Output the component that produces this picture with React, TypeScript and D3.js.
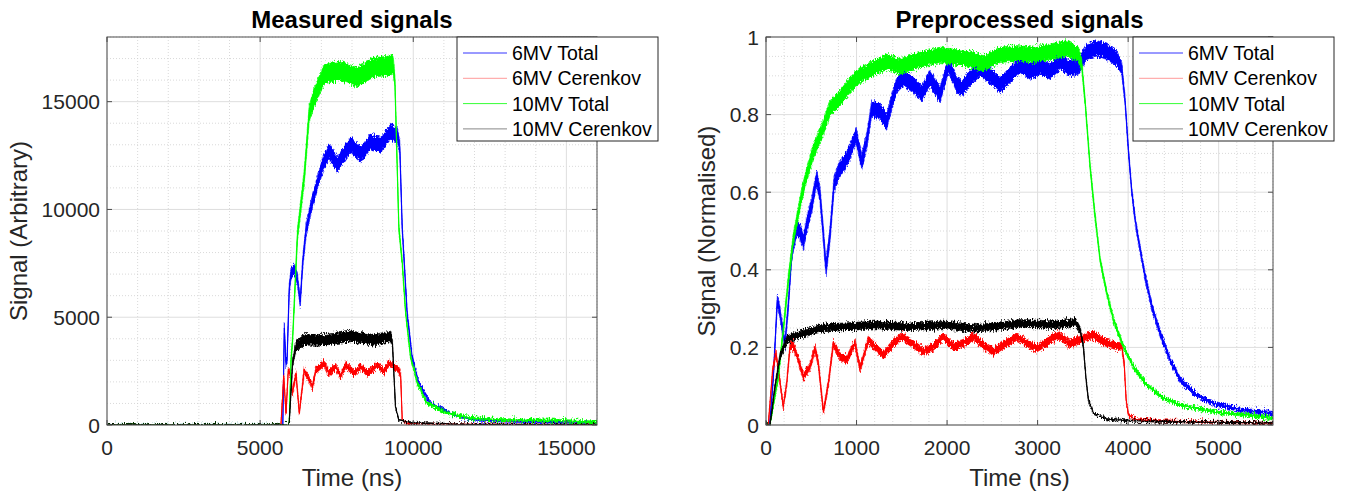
import React from 'react';
import * as d3 from 'd3';

type P = [number, number, number]; // [time, value, noise half-width]

const seriesNames = ['6MV Total', '6MV Cerenkov', '10MV Total', '10MV Cerenkov'];
const seriesColors = ['#0000ff', '#ff0000', '#00ff00', '#000000'];

const leftXTicks = [0, 5000, 10000, 15000];
const leftYTicks = [0, 5000, 10000, 15000];
const rightXTicks = [0, 1000, 2000, 3000, 4000, 5000];
const rightYTicks = [0, 0.2, 0.4, 0.6, 0.8, 1];

// ---- Measured signals ----
const left6MVTotal: P[] = [
  [0, 0, 30], [5600, 0, 30], [5740, 0, 50], [5790, 4500, 200], [5840, 2900, 200], [5880, 3000, 200],
  [5950, 6300, 250], [6010, 7050, 250], [6120, 7200, 250], [6220, 6750, 250], [6310, 5700, 250],
  [6390, 7500, 250], [6500, 9050, 300], [6660, 10100, 300], [6880, 11300, 300], [7090, 12250, 350],
  [7250, 12700, 350], [7520, 12100, 350], [7960, 13000, 350], [8290, 12550, 350], [8610, 13150, 350],
  [8940, 13000, 350], [9260, 13600, 350], [9480, 13450, 350], [9560, 12900, 300], [9640, 9150, 200],
  [9800, 5200, 150], [9960, 3180, 120], [10180, 1940, 100], [10560, 1010, 80], [11320, 470, 70],
  [11970, 240, 60], [13000, 180, 50], [14500, 140, 50], [16000, 100, 40],
];
const left6MVCerenkov: P[] = [
  [0, 0, 20], [5680, 0, 20], [5770, 2250, 120], [5845, 550, 100], [5920, 2550, 120], [6000, 2300, 120],
  [6060, 1470, 120], [6170, 2400, 120], [6280, 550, 100], [6440, 2550, 150], [6550, 2250, 150],
  [6710, 1780, 150], [6820, 2550, 150], [7090, 2870, 150], [7250, 2400, 150], [7470, 2710, 150],
  [7630, 2250, 150], [7800, 2790, 150], [8070, 2400, 150], [8290, 2710, 150], [8500, 2400, 150],
  [8830, 2790, 150], [9040, 2480, 150], [9210, 2870, 150], [9530, 2560, 150], [9590, 2250, 150],
  [9640, 230, 50], [9800, 80, 30], [11000, 40, 20], [16000, 10, 20],
];
const left10MVTotal: P[] = [
  [0, 0, 30], [5900, 0, 30], [5950, 100, 50], [6010, 3020, 150], [6060, 3950, 200], [6220, 8840, 300],
  [6440, 11490, 350], [6600, 14420, 400], [6770, 15210, 450], [7090, 16280, 450], [7630, 16430, 450],
  [8170, 16140, 450], [8720, 16600, 450], [9260, 16670, 450], [9340, 16750, 450], [9400, 15970, 300],
  [9530, 9160, 200], [9640, 7540, 150], [9750, 5210, 120], [9910, 3180, 100], [10130, 1950, 100],
  [10450, 1020, 80], [11100, 560, 70], [11860, 320, 70], [13000, 230, 60], [14500, 220, 60], [16000, 130, 50],
];
const left10MVCerenkov: P[] = [
  [0, 0, 20], [5900, 0, 20], [5950, 100, 40], [6060, 2870, 200], [6170, 3640, 250], [6440, 3950, 250],
  [7090, 3950, 250], [7960, 4110, 250], [8720, 3950, 250], [9260, 4110, 250], [9320, 3800, 200],
  [9420, 850, 80], [9530, 230, 40], [10000, 100, 30], [12000, 20, 20], [16000, 10, 15],
];

// ---- Preprocessed signals ----
const right6MVTotal: P[] = [
  [0, 0, 0.004], [40, 0, 0.004], [80, 0.12, 0.01], [125, 0.32, 0.015], [147, 0.3, 0.015], [184, 0.245, 0.015],
  [210, 0.21, 0.015], [247, 0.31, 0.015], [284, 0.44, 0.015], [339, 0.507, 0.02], [376, 0.498, 0.02],
  [413, 0.472, 0.02], [449, 0.515, 0.02], [505, 0.567, 0.02], [560, 0.636, 0.02], [597, 0.593, 0.02],
  [634, 0.49, 0.02], [663, 0.404, 0.02], [707, 0.49, 0.02], [751, 0.619, 0.02], [799, 0.653, 0.02],
  [873, 0.679, 0.02], [928, 0.704, 0.02], [994, 0.747, 0.02], [1057, 0.679, 0.02], [1112, 0.73, 0.02],
  [1168, 0.816, 0.02], [1260, 0.808, 0.02], [1333, 0.782, 0.02], [1389, 0.833, 0.02], [1444, 0.876, 0.02],
  [1517, 0.894, 0.02], [1628, 0.876, 0.02], [1720, 0.855, 0.02], [1812, 0.894, 0.02], [1923, 0.851, 0.02],
  [2015, 0.928, 0.02], [2107, 0.878, 0.02], [2162, 0.868, 0.02], [2254, 0.894, 0.02], [2365, 0.919, 0.02],
  [2512, 0.894, 0.02], [2586, 0.876, 0.02], [2696, 0.902, 0.02], [2807, 0.928, 0.02], [2917, 0.911, 0.02],
  [3028, 0.924, 0.02], [3138, 0.911, 0.02], [3249, 0.936, 0.02], [3359, 0.919, 0.02], [3451, 0.924, 0.02],
  [3543, 0.962, 0.02], [3654, 0.971, 0.02], [3765, 0.962, 0.02], [3875, 0.945, 0.02], [3930, 0.919, 0.015],
  [3967, 0.833, 0.01], [4004, 0.704, 0.01], [4041, 0.6, 0.01], [4077, 0.53, 0.01], [4114, 0.477, 0.01],
  [4188, 0.382, 0.01], [4262, 0.305, 0.01], [4354, 0.236, 0.01], [4464, 0.168, 0.008], [4575, 0.116, 0.008],
  [4759, 0.077, 0.006], [4943, 0.056, 0.006], [5238, 0.039, 0.005], [5600, 0.03, 0.005],
];
const right6MVCerenkov: P[] = [
  [0, 0, 0.003], [25, 0, 0.003], [74, 0.142, 0.008], [110, 0.185, 0.008], [147, 0.125, 0.008], [191, 0.047, 0.008],
  [229, 0.107, 0.008], [265, 0.202, 0.01], [302, 0.206, 0.01], [357, 0.168, 0.01], [412, 0.125, 0.01],
  [486, 0.15, 0.01], [541, 0.198, 0.01], [578, 0.159, 0.01], [634, 0.034, 0.008], [689, 0.107, 0.01],
  [744, 0.211, 0.01], [818, 0.176, 0.01], [891, 0.168, 0.01], [983, 0.211, 0.01], [1039, 0.146, 0.01],
  [1131, 0.219, 0.01], [1204, 0.202, 0.01], [1296, 0.18, 0.01], [1389, 0.206, 0.01], [1499, 0.229, 0.01],
  [1610, 0.211, 0.01], [1738, 0.189, 0.01], [1849, 0.202, 0.01], [1959, 0.228, 0.01], [2070, 0.202, 0.01],
  [2180, 0.211, 0.01], [2291, 0.228, 0.01], [2401, 0.206, 0.01], [2512, 0.189, 0.01], [2622, 0.206, 0.01],
  [2770, 0.228, 0.01], [2881, 0.211, 0.01], [2991, 0.198, 0.01], [3138, 0.219, 0.01], [3230, 0.232, 0.01],
  [3350, 0.21, 0.01], [3470, 0.219, 0.01], [3543, 0.228, 0.01], [3617, 0.232, 0.01], [3727, 0.215, 0.01],
  [3838, 0.206, 0.01], [3930, 0.202, 0.01], [3956, 0.159, 0.006], [3978, 0.064, 0.004], [4004, 0.026, 0.004],
  [4096, 0.013, 0.003], [4575, 0.009, 0.003], [5600, 0.004, 0.003],
];
const right10MVTotal: P[] = [
  [0, 0, 0.003], [44, 0, 0.003], [136, 0.125, 0.01], [191, 0.245, 0.012], [247, 0.374, 0.015], [302, 0.48, 0.015],
  [339, 0.524, 0.015], [394, 0.593, 0.018], [449, 0.644, 0.018], [523, 0.704, 0.02], [615, 0.756, 0.02],
  [707, 0.816, 0.02], [818, 0.842, 0.02], [928, 0.876, 0.02], [1039, 0.902, 0.02], [1186, 0.919, 0.02],
  [1333, 0.936, 0.02], [1481, 0.924, 0.02], [1628, 0.936, 0.02], [1775, 0.945, 0.02], [1923, 0.954, 0.02],
  [2070, 0.949, 0.02], [2217, 0.945, 0.02], [2401, 0.932, 0.02], [2586, 0.954, 0.02], [2770, 0.958, 0.02],
  [2954, 0.954, 0.02], [3138, 0.962, 0.02], [3322, 0.971, 0.02], [3451, 0.954, 0.02], [3488, 0.928, 0.015],
  [3525, 0.833, 0.01], [3580, 0.665, 0.01], [3635, 0.537, 0.01], [3691, 0.425, 0.008], [3765, 0.339, 0.008],
  [3838, 0.271, 0.008], [3948, 0.202, 0.006], [4059, 0.15, 0.006], [4206, 0.103, 0.005], [4390, 0.069, 0.005],
  [4575, 0.052, 0.004], [4943, 0.034, 0.004], [5311, 0.026, 0.004], [5600, 0.017, 0.004],
];
const right10MVCerenkov: P[] = [
  [0, 0, 0.003], [44, 0, 0.003], [99, 0.099, 0.008], [155, 0.176, 0.01], [229, 0.219, 0.01], [302, 0.228, 0.01],
  [412, 0.236, 0.01], [597, 0.249, 0.01], [854, 0.253, 0.01], [1223, 0.258, 0.01], [1591, 0.253, 0.01],
  [1960, 0.258, 0.01], [2328, 0.249, 0.01], [2807, 0.262, 0.01], [3212, 0.258, 0.01], [3420, 0.265, 0.01],
  [3470, 0.245, 0.008], [3506, 0.202, 0.006], [3536, 0.116, 0.005], [3562, 0.064, 0.004], [3617, 0.03, 0.003],
  [3765, 0.015, 0.002], [4022, 0.011, 0.002], [4575, 0.008, 0.002], [5600, 0.005, 0.002],
];

const FONT = '"Liberation Sans", Arial, Helvetica, sans-serif';

interface PanelProps {
  id: string;
  left: number; right: number; top: number; bottom: number;
  xMax: number; yMax: number;
  xTicks: number[]; yTicks: number[];
  xMinorStep: number; yMinorStep: number;
  series: P[][];
  title: string; xLabel: string; yLabel: string; yLabelX: number;
}

function Panel(p: PanelProps) {
  const x = d3.scaleLinear().domain([0, p.xMax]).range([p.left, p.right]);
  const y = d3.scaleLinear().domain([0, p.yMax]).range([p.bottom, p.top]);
  const xMinor = d3.range(0, p.xMax + 1e-9, p.xMinorStep).filter(v => !p.xTicks.some(t => Math.abs(t - v) < 1e-6));
  const yMinor = d3.range(0, p.yMax + 1e-9, p.yMinorStep).filter(v => !p.yTicks.some(t => Math.abs(t - v) < 1e-6));
  const area = d3.area<P>().x(d => x(d[0])).y0(d => y(d[1] - d[2])).y1(d => y(d[1] + d[2]));
  const line = d3.line<P>().x(d => x(d[0])).y(d => y(d[1]));
  const axisColor = '#4d4d4d';
  const tl = 5;
  const cx = (p.left + p.right) / 2;
  const cy = (p.top + p.bottom) / 2;
  const legX = p.right - 140;
  const legY = p.top;
  return (
    <g>
      <defs>
        <clipPath id={p.id}>
          <rect x={p.left} y={p.top} width={p.right - p.left} height={p.bottom - p.top} />
        </clipPath>
      </defs>
      <rect x={p.left} y={p.top} width={p.right - p.left} height={p.bottom - p.top} fill="#fff" />
      {xMinor.map(v => (
        <line key={'xm' + v} x1={x(v)} x2={x(v)} y1={p.top} y2={p.bottom} stroke="#cfcfcf" strokeWidth={0.8} strokeDasharray="1,2" />
      ))}
      {yMinor.map(v => (
        <line key={'ym' + v} x1={p.left} x2={p.right} y1={y(v)} y2={y(v)} stroke="#cfcfcf" strokeWidth={0.8} strokeDasharray="1,2" />
      ))}
      {p.xTicks.map(v => (
        <line key={'xg' + v} x1={x(v)} x2={x(v)} y1={p.top} y2={p.bottom} stroke="#dedede" strokeWidth={1} />
      ))}
      {p.yTicks.map(v => (
        <line key={'yg' + v} x1={p.left} x2={p.right} y1={y(v)} y2={y(v)} stroke="#dedede" strokeWidth={1} />
      ))}
      <g clipPath={`url(#${p.id})`}>
        {p.series.map((s, i) => (
          <g key={i}>
            <path d={area(s) || ''} fill={seriesColors[i]} stroke={seriesColors[i]} strokeWidth={0.6} filter="url(#rough)" />
            <path d={line(s) || ''} fill="none" stroke={seriesColors[i]} strokeWidth={1} filter="url(#roughLine)" />
          </g>
        ))}
      </g>
      <rect x={p.left} y={p.top} width={p.right - p.left} height={p.bottom - p.top} fill="none" stroke={axisColor} strokeWidth={1} />
      {p.xTicks.map(v => (
        <g key={'xt' + v}>
          <line x1={x(v)} x2={x(v)} y1={p.bottom} y2={p.bottom - tl} stroke={axisColor} />
          <line x1={x(v)} x2={x(v)} y1={p.top} y2={p.top + tl} stroke={axisColor} />
          <text x={x(v)} y={455} textAnchor="middle" fontSize={21} fontFamily={FONT} fill="#262626">{String(v)}</text>
        </g>
      ))}
      {p.yTicks.map(v => (
        <g key={'yt' + v}>
          <line x1={p.left} x2={p.left + tl} y1={y(v)} y2={y(v)} stroke={axisColor} />
          <line x1={p.right} x2={p.right - tl} y1={y(v)} y2={y(v)} stroke={axisColor} />
          <text x={p.left - 7} y={y(v)} dy="0.36em" textAnchor="end" fontSize={21} fontFamily={FONT} fill="#262626">{String(v)}</text>
        </g>
      ))}
      <text x={cx} y={28} textAnchor="middle" fontSize={24} fontWeight="bold" fontFamily={FONT} fill="#000">{p.title}</text>
      <text x={cx} y={486} textAnchor="middle" fontSize={24} fontFamily={FONT} fill="#262626">{p.xLabel}</text>
      <text transform={`translate(${p.yLabelX},${cy}) rotate(-90)`} textAnchor="middle" fontSize={24} fontFamily={FONT} fill="#262626">{p.yLabel}</text>
      <g>
        <rect x={legX} y={legY} width={201} height={104} fill="#fff" stroke="#262626" strokeWidth={1} />
        {seriesNames.map((n, i) => {
          const ry = legY + 16 + i * 25.3;
          return (
            <g key={n}>
              <line x1={legX + 6} x2={legX + 50} y1={ry} y2={ry} stroke={seriesColors[i]} strokeWidth={0.8} strokeOpacity={i === 3 ? 0.6 : i === 1 ? 0.5 : 1} />
              <text x={legX + 55} y={ry} dy="0.36em" fontSize={19.5} fontFamily={FONT} fill="#000">{n}</text>
            </g>
          );
        })}
      </g>
    </g>
  );
}

export default function App() {
  return (
    <svg width={1351} height={496} style={{ position: 'absolute', left: 0, top: 0, background: '#fff' }}>
      <defs>
        <filter id="rough" x="0" y="0" width="1351" height="496" filterUnits="userSpaceOnUse">
          <feTurbulence type="fractalNoise" baseFrequency="0.9 0.35" numOctaves={2} seed={7} result="t" />
          <feColorMatrix in="t" type="matrix" values="0 0 0 0 0.5  0 1 0 0 0  0 0 1 0 0  0 0 0 0 1" result="m" />
          <feDisplacementMap in="SourceGraphic" in2="m" scale={9} xChannelSelector="R" yChannelSelector="G" />
        </filter>
        <filter id="roughLine" x="0" y="0" width="1351" height="496" filterUnits="userSpaceOnUse">
          <feTurbulence type="fractalNoise" baseFrequency="0.9 0.35" numOctaves={2} seed={3} result="t" />
          <feColorMatrix in="t" type="matrix" values="0 0 0 0 0.5  0 1 0 0 0  0 0 1 0 0  0 0 0 0 1" result="m" />
          <feDisplacementMap in="SourceGraphic" in2="m" scale={3} xChannelSelector="R" yChannelSelector="G" />
        </filter>
      </defs>
      <rect x={0} y={0} width={1351} height={496} fill="#fff" />
      <Panel id="clipL" left={107} right={597} top={37} bottom={425} xMax={16000} yMax={18000}
        xTicks={leftXTicks} yTicks={leftYTicks} xMinorStep={1000} yMinorStep={1000}
        series={[left6MVTotal, left6MVCerenkov, left10MVTotal, left10MVCerenkov]}
        title="Measured signals" xLabel="Time (ns)" yLabel="Signal (Arbitrary)" yLabelX={27} />
      <Panel id="clipR" left={766} right={1273} top={37} bottom={425} xMax={5600} yMax={1}
        xTicks={rightXTicks} yTicks={rightYTicks} xMinorStep={200} yMinorStep={0.05}
        series={[right6MVTotal, right6MVCerenkov, right10MVTotal, right10MVCerenkov]}
        title="Preprocessed signals" xLabel="Time (ns)" yLabel="Signal (Normalised)" yLabelX={715} />
    </svg>
  );
}
